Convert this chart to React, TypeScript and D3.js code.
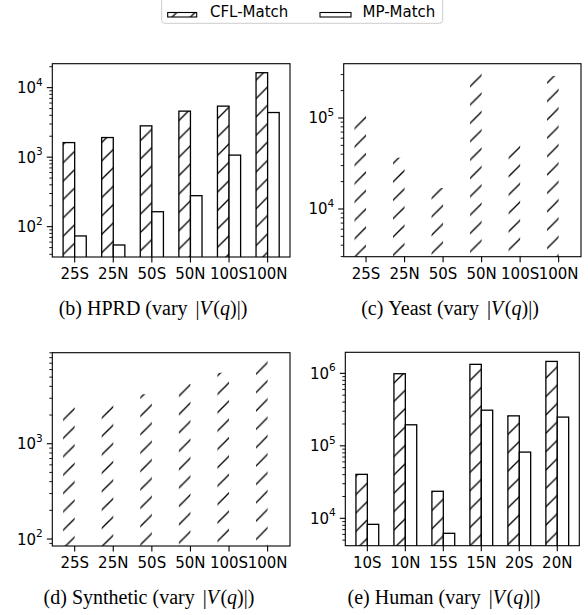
import React from 'react';
import * as d3 from 'd3';

const catsVary = ['25S', '25N', '50S', '50N', '100S', '100N'];
const catsHuman = ['10S', '10N', '15S', '15N', '20S', '20N'];

const hprdCFL = [1620, 1915, 2820, 4590, 5420, 16400];
const hprdMP = [73.5, 54.5, 164, 279, 1070, 4385];
const yeastCFL = [115000, 36600, 17000, 335000, 55000, 290000];
const synthCFL = [2550, 2670, 3310, 4240, 5560, 8130];
const humanCFL = [40400, 987000, 23600, 1330000, 259000, 1460000];
const humanMP = [8260, 195000, 6210, 310000, 81900, 249000];

const HATCH = 18.37;
const HATCH_OFF = 5.5;

type Panel = {
  id: string;
  x0: number; x1: number; y0: number; y1: number;
  domain: [number, number];
  cats: string[];
  cfl: number[];
  mp?: number[];
  outlined: boolean;
  caption: [string, string];
  capX: number; capY: number;
};

const panels: Panel[] = [
  { id: 'b', x0: 52.3, x1: 290, y0: 63.7, y1: 257, domain: [36.6, 22100], cats: catsVary, cfl: hprdCFL, mp: hprdMP, outlined: true, caption: ['(b)', 'HPRD'], capX: 153, capY: 314.5 },
  { id: 'c', x0: 343.7, x1: 581, y0: 63.7, y1: 256.7, domain: [2990, 395000], cats: catsVary, cfl: yeastCFL, outlined: false, caption: ['(c)', 'Yeast'], capX: 450, capY: 314.5 },
  { id: 'd', x0: 52.3, x1: 290, y0: 352.7, y1: 546, domain: [84.5, 9020], cats: catsVary, cfl: synthCFL, outlined: false, caption: ['(d)', 'Synthetic'], capX: 149, capY: 603.5 },
  { id: 'e', x0: 345.3, x1: 579.3, y0: 352.3, y1: 545.7, domain: [4190, 1950000], cats: catsHuman, cfl: humanCFL, mp: humanMP, outlined: true, caption: ['(e)', 'Human'], capX: 444, capY: 603.5 },
];

const SANS = 'DejaVu Sans';
const SERIF = '"Liberation Serif", "Times New Roman", serif';

function PanelView({ p }: { p: Panel }) {
  const x = d3.scaleLinear().domain([-0.58, 5.58]).range([p.x0, p.x1]);
  const y = d3.scaleLog().domain(p.domain).range([p.y1, p.y0]);
  const bw = 0.3;
  const lo = Math.floor(Math.log10(p.domain[0]));
  const hi = Math.ceil(Math.log10(p.domain[1]));
  const majors: number[] = [];
  const minors: number[] = [];
  for (let k = lo; k <= hi; k++) {
    const v = Math.pow(10, k);
    if (v >= p.domain[0] && v <= p.domain[1]) majors.push(k);
    for (let m = 2; m <= 9; m++) {
      const mv = m * v;
      if (mv >= p.domain[0] && mv <= p.domain[1]) minors.push(mv);
    }
  }
  const clipId = 'clip-' + p.id;
  return (
    <g>
      <defs>
        <clipPath id={clipId}>
          <rect x={p.x0} y={p.y0} width={p.x1 - p.x0} height={p.y1 - p.y0} />
        </clipPath>
      </defs>
      <g clipPath={`url(#${clipId})`}>
        {p.cfl.map((v, i) => {
          const bx = x(i - bw);
          const by = y(v);
          const w = x(i) - x(i - bw);
          const h = p.y1 + 5 - by;
          return (
            <rect key={'c' + i} x={bx} y={by} width={w} height={h} fill="url(#hatch)" stroke={p.outlined ? '#000' : 'none'} strokeWidth={1.3} />
          );
        })}
        {p.mp && p.mp.map((v, i) => {
          const bx = x(i);
          const by = y(v);
          const w = x(i + bw) - x(i);
          return <rect key={'m' + i} x={bx} y={by} width={w} height={p.y1 + 5 - by} fill="#fff" stroke="#000" strokeWidth={1.3} />;
        })}
      </g>
      <rect x={p.x0} y={p.y0} width={p.x1 - p.x0} height={p.y1 - p.y0} fill="none" stroke="#000" strokeWidth={1.1} />
      {minors.map((v, i) => (
        <line key={'mn' + i} x1={p.x0 - 3} x2={p.x0} y1={y(v)} y2={y(v)} stroke="#000" strokeWidth={0.9} />
      ))}
      {majors.map((k) => (
        <g key={'mj' + k}>
          <line x1={p.x0 - 5.5} x2={p.x0} y1={y(Math.pow(10, k))} y2={y(Math.pow(10, k))} stroke="#000" strokeWidth={1.1} />
          <text x={p.x0 - 9.5} y={y(Math.pow(10, k)) + 5.5} textAnchor="end" fontFamily={SANS} fontSize={15} fill="#000">
            <tspan>10</tspan>
            <tspan fontSize={10.5} dy={-7.5}>{k}</tspan>
          </text>
        </g>
      ))}
      {p.cats.map((c, i) => (
        <g key={'xt' + i}>
          <line x1={x(i)} x2={x(i)} y1={p.y1} y2={p.y1 + 5.5} stroke="#000" strokeWidth={1.1} />
          <text x={x(i)} y={p.y1 + 22} textAnchor="middle" fontFamily={SANS} fontSize={15} fill="#000">{c}</text>
        </g>
      ))}
      <text x={p.capX} y={p.capY} textAnchor="middle" fontFamily={SERIF} fontSize={20} fill="#000">
        <tspan>{p.caption[0]}</tspan>
        <tspan dx={5}>{p.caption[1] + ' (vary '}</tspan>
        <tspan dx={3}>|</tspan>
        <tspan fontStyle="italic">V</tspan>
        <tspan dx={1.5}>(</tspan>
        <tspan fontStyle="italic">q</tspan>
        <tspan>)|)</tspan>
      </text>
    </g>
  );
}

export default function App() {
  return (
    <svg width={588} height={615} style={{ position: 'absolute', left: 0, top: 0, background: '#fff' }}>
      <defs>
        <pattern id="hatch" patternUnits="userSpaceOnUse" x={HATCH_OFF} y={0} width={HATCH} height={HATCH}>
          <line x1={-2} y1={HATCH + 2} x2={HATCH + 2} y2={-2} stroke="#000" strokeWidth={1.3} />
          <line x1={-2} y1={2} x2={2} y2={-2} stroke="#000" strokeWidth={1.3} />
          <line x1={HATCH - 2} y1={HATCH + 2} x2={HATCH + 2} y2={HATCH - 2} stroke="#000" strokeWidth={1.3} />
        </pattern>
      </defs>
      <rect x={0} y={0} width={588} height={615} fill="#fff" />
      <rect x={161.7} y={-3} width={281} height={26.3} rx={3} fill="#fff" stroke="#ccc" strokeWidth={1} />
      <rect x={167.7} y={12.5} width={29} height={4.5} fill="url(#hatch)" stroke="#000" strokeWidth={1.1} />
      <text x={210} y={16.8} fontFamily={SANS} fontSize={15} fill="#000">CFL-Match</text>
      <rect x={320} y={12.5} width={31} height={4.5} fill="#fff" stroke="#000" strokeWidth={1.1} />
      <text x={362.5} y={16.8} fontFamily={SANS} fontSize={15} fill="#000">MP-Match</text>
      {panels.map((p) => <PanelView key={p.id} p={p} />)}
    </svg>
  );
}
